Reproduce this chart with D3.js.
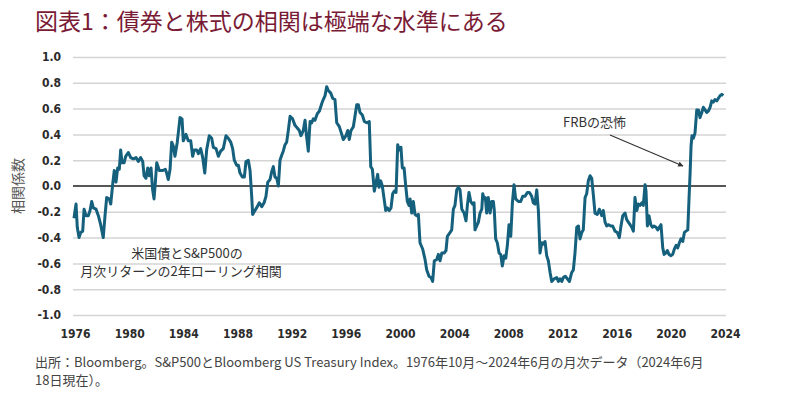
<!DOCTYPE html>
<html>
<head>
<meta charset="utf-8">
<script src="https://cdn.jsdelivr.net/npm/d3@7"></script>
<style>
  body { margin: 0; background: #fff; }
  text { font-family: "Noto Sans CJK JP", sans-serif; }
</style>
</head>
<body>
<svg id="chart" width="800" height="395"></svg>
<script>
// 2-year rolling correlation, US Treasuries vs S&P 500 (decimal year, value)
var corrSeries = [
  [1976.75,-0.25],[1976.90,-0.14],[1976.99,-0.32],[1977.12,-0.40],[1977.24,-0.36],[1977.39,-0.35],
  [1977.49,-0.18],[1977.63,-0.23],[1977.80,-0.23],[1977.93,-0.19],[1978.05,-0.12],[1978.17,-0.17],
  [1978.37,-0.18],[1978.54,-0.23],[1978.71,-0.30],[1978.90,-0.40],[1979.03,-0.23],[1979.15,-0.09],
  [1979.34,-0.10],[1979.45,-0.14],[1979.59,0.01],[1979.71,0.12],[1979.84,0.03],[1979.96,0.14],
  [1980.08,0.13],[1980.18,0.28],[1980.28,0.18],[1980.43,0.18],[1980.55,0.23],[1980.74,0.26],
  [1980.92,0.22],[1981.11,0.21],[1981.31,0.22],[1981.48,0.19],[1981.65,0.22],[1981.80,0.19],
  [1981.90,0.08],[1982.04,0.06],[1982.17,0.14],[1982.28,0.08],[1982.41,0.14],[1982.53,-0.03],
  [1982.63,-0.10],[1982.73,0.03],[1982.83,0.18],[1983.02,0.12],[1983.27,0.12],[1983.46,0.13],
  [1983.56,0.10],[1983.68,0.05],[1983.81,0.13],[1983.93,0.34],[1984.05,0.31],[1984.17,0.23],
  [1984.34,0.34],[1984.54,0.53],[1984.69,0.52],[1984.78,0.35],[1984.98,0.40],[1985.15,0.35],
  [1985.33,0.35],[1985.47,0.23],[1985.59,0.28],[1985.77,0.28],[1985.89,0.25],[1986.06,0.29],
  [1986.21,0.22],[1986.36,0.10],[1986.50,0.28],[1986.69,0.39],[1986.87,0.37],[1986.99,0.30],
  [1987.19,0.29],[1987.36,0.23],[1987.53,0.27],[1987.72,0.29],[1987.92,0.39],[1988.09,0.37],
  [1988.27,0.34],[1988.41,0.29],[1988.53,0.20],[1988.71,0.16],[1988.83,0.16],[1988.95,0.10],
  [1989.12,0.07],[1989.27,0.07],[1989.39,0.19],[1989.56,0.20],[1989.69,0.12],[1989.81,-0.08],
  [1989.88,-0.22],[1990.05,-0.19],[1990.22,-0.16],[1990.37,-0.13],[1990.55,-0.16],[1990.72,-0.13],
  [1990.86,-0.08],[1990.99,0.03],[1991.16,0.05],[1991.28,0.11],[1991.40,0.15],[1991.52,0.07],
  [1991.65,0.06],[1991.77,0.00],[1991.89,0.20],[1992.02,0.24],[1992.13,0.27],[1992.26,0.32],
  [1992.38,0.34],[1992.50,0.43],[1992.63,0.54],[1992.82,0.52],[1992.99,0.47],[1993.16,0.45],
  [1993.31,0.43],[1993.43,0.39],[1993.60,0.43],[1993.73,0.51],[1993.85,0.38],[1993.97,0.27],
  [1994.10,0.50],[1994.22,0.49],[1994.34,0.52],[1994.46,0.51],[1994.63,0.56],[1994.78,0.58],
  [1994.96,0.64],[1995.07,0.67],[1995.20,0.70],[1995.32,0.77],[1995.44,0.74],[1995.62,0.72],
  [1995.76,0.68],[1995.93,0.67],[1996.06,0.49],[1996.25,0.46],[1996.43,0.40],[1996.54,0.36],
  [1996.74,0.39],[1996.87,0.43],[1996.98,0.36],[1997.11,0.43],[1997.28,0.46],[1997.40,0.54],
  [1997.53,0.63],[1997.65,0.63],[1997.77,0.57],[1997.94,0.55],[1998.09,0.50],[1998.26,0.49],
  [1998.45,0.50],[1998.56,0.15],[1998.68,0.13],[1998.82,-0.04],[1998.95,0.03],[1999.07,0.09],
  [1999.17,-0.01],[1999.29,0.04],[1999.41,0.00],[1999.54,-0.10],[1999.66,-0.19],[1999.78,-0.17],
  [1999.92,-0.19],[2000.05,-0.17],[2000.17,-0.06],[2000.29,-0.04],[2000.42,-0.05],[2000.54,0.32],
  [2000.66,0.28],[2000.78,0.30],[2000.88,0.14],[2001.01,0.14],[2001.13,0.00],[2001.25,-0.12],
  [2001.37,-0.15],[2001.45,-0.10],[2001.57,-0.21],[2001.69,-0.12],[2001.81,-0.22],[2001.94,-0.23],
  [2002.06,-0.22],[2002.18,-0.44],[2002.38,-0.49],[2002.55,-0.57],[2002.67,-0.65],[2002.84,-0.70],
  [2002.99,-0.71],[2003.11,-0.74],[2003.23,-0.58],[2003.41,-0.57],[2003.53,-0.53],[2003.65,-0.58],
  [2003.78,-0.52],[2003.95,-0.52],[2004.09,-0.50],[2004.19,-0.39],[2004.33,-0.37],[2004.51,-0.34],
  [2004.63,-0.18],[2004.75,-0.15],[2004.88,-0.03],[2005.00,-0.01],[2005.12,-0.03],[2005.25,-0.18],
  [2005.42,-0.21],[2005.56,-0.27],[2005.66,-0.15],[2005.78,-0.05],[2005.91,-0.12],[2006.03,-0.14],
  [2006.15,-0.13],[2006.22,-0.34],[2006.35,-0.31],[2006.47,-0.28],[2006.59,-0.21],[2006.72,-0.18],
  [2006.79,-0.06],[2006.89,-0.10],[2006.98,-0.09],[2007.08,-0.21],[2007.20,-0.09],[2007.33,-0.21],
  [2007.45,-0.12],[2007.57,-0.12],[2007.64,-0.19],[2007.74,-0.41],[2007.86,-0.44],[2007.99,-0.52],
  [2008.11,-0.53],[2008.23,-0.62],[2008.36,-0.54],[2008.48,-0.56],[2008.60,-0.46],[2008.72,-0.30],
  [2008.85,-0.39],[2008.97,-0.13],[2009.09,0.01],[2009.21,-0.10],[2009.41,-0.12],[2009.58,-0.12],
  [2009.73,-0.08],[2009.90,-0.08],[2010.07,-0.05],[2010.22,-0.05],[2010.39,-0.08],[2010.51,-0.13],
  [2010.63,-0.14],[2010.76,-0.03],[2010.88,-0.19],[2011.00,-0.52],[2011.13,-0.44],[2011.24,-0.45],
  [2011.37,-0.43],[2011.49,-0.54],[2011.61,-0.58],[2011.74,-0.67],[2011.86,-0.74],[2012.03,-0.72],
  [2012.23,-0.71],[2012.35,-0.74],[2012.47,-0.72],[2012.60,-0.74],[2012.71,-0.71],[2012.86,-0.70],
  [2013.01,-0.72],[2013.16,-0.74],[2013.33,-0.67],[2013.45,-0.65],[2013.57,-0.52],[2013.70,-0.32],
  [2013.82,-0.31],[2013.94,-0.41],[2014.07,-0.36],[2014.18,-0.34],[2014.31,-0.09],[2014.43,-0.06],
  [2014.55,0.04],[2014.68,0.08],[2014.80,0.06],[2014.92,-0.07],[2015.04,-0.21],[2015.21,-0.22],
  [2015.36,-0.18],[2015.54,-0.23],[2015.65,-0.19],[2015.78,-0.28],[2015.90,-0.31],[2016.02,-0.30],
  [2016.20,-0.31],[2016.34,-0.31],[2016.51,-0.35],[2016.68,-0.36],[2016.83,-0.40],[2016.95,-0.31],
  [2017.08,-0.23],[2017.25,-0.21],[2017.37,-0.26],[2017.49,-0.28],[2017.62,-0.30],[2017.74,-0.32],
  [2017.86,-0.35],[2017.98,-0.09],[2018.11,-0.19],[2018.23,-0.14],[2018.35,-0.15],[2018.48,-0.13],
  [2018.59,-0.15],[2018.72,0.01],[2018.79,-0.04],[2018.89,-0.31],[2019.01,-0.23],[2019.14,-0.30],
  [2019.26,-0.32],[2019.38,-0.31],[2019.53,-0.32],[2019.65,-0.34],[2019.77,-0.32],[2019.89,-0.30],
  [2020.02,-0.48],[2020.12,-0.53],[2020.24,-0.52],[2020.36,-0.50],[2020.48,-0.53],[2020.63,-0.54],
  [2020.75,-0.53],[2020.87,-0.49],[2021.00,-0.46],[2021.12,-0.48],[2021.24,-0.44],[2021.36,-0.41],
  [2021.49,-0.43],[2021.61,-0.36],[2021.73,-0.35],[2021.86,-0.34],[2021.95,-0.10],[2022.03,0.10],
  [2022.10,0.31],[2022.17,0.39],[2022.27,0.37],[2022.39,0.41],[2022.52,0.59],[2022.64,0.59],
  [2022.76,0.53],[2022.89,0.57],[2023.00,0.61],[2023.13,0.59],[2023.25,0.57],[2023.37,0.58],
  [2023.50,0.61],[2023.62,0.66],[2023.74,0.65],[2023.86,0.67],[2023.99,0.66],[2024.11,0.68],
  [2024.23,0.70],[2024.36,0.71],[2024.47,0.70]
];

var tickYears = ["1976","1980","1984","1988","1992","1996","2000","2004","2008","2012","2016","2020","2024"];
var yTicks = [-1.0, -0.8, -0.6, -0.4, -0.2, 0.0, 0.2, 0.4, 0.6, 0.8, 1.0];

var svg = d3.select("#chart"),
    plotLeft = 73, plotRight = 726;

var x = d3.scaleLinear().domain([1976.75, 2024.47]).range([74, 723.3]);
var xLabel = d3.scalePoint().domain(tickYears).range([75, 725]);
var y = d3.scaleLinear().domain([-1, 1]).range([315, 57]);

svg.append("rect").attr("width", 800).attr("height", 395).attr("fill", "#fff");

// title
svg.append("text")
    .attr("x", 35).attr("y", 30)
    .attr("fill", "#7a1b36")
    .style("font-size", "23px")
    .text("図表1：債券と株式の相関は極端な水準にある");

// gridlines
var grid = svg.append("g")
    .attr("transform", "translate(" + plotLeft + ",0)")
    .call(d3.axisLeft(y).tickValues(yTicks.filter(function(d) { return d !== 0; }))
      .tickSize(-(plotRight - plotLeft)).tickFormat(""));
grid.select(".domain").remove();
grid.selectAll("line").attr("stroke", "#d4d4d4").attr("stroke-width", 1.5);

// y labels
var yAxis = svg.append("g")
    .attr("transform", "translate(" + plotLeft + ",0)")
    .call(d3.axisLeft(y).tickValues(yTicks).tickSize(0).tickPadding(12)
      .tickFormat(function(d) { return d.toFixed(1); }));
yAxis.select(".domain").remove();
yAxis.selectAll("text")
    .attr("fill", "#2b2b2b")
    .style("font-family", "'DejaVu Sans Condensed', 'DejaVu Sans', sans-serif")
    .style("font-weight", "bold")
    .style("font-size", "12px");

// x labels
var xAxis = svg.append("g")
    .attr("transform", "translate(0,321)")
    .call(d3.axisBottom(xLabel).tickSize(0).tickPadding(8));
xAxis.select(".domain").remove();
xAxis.selectAll("text")
    .attr("fill", "#2b2b2b")
    .style("font-family", "'DejaVu Sans Condensed', 'DejaVu Sans', sans-serif")
    .style("font-weight", "bold")
    .style("font-size", "12px");

// zero line
svg.append("line")
    .attr("x1", plotLeft).attr("x2", plotRight)
    .attr("y1", y(0)).attr("y2", y(0))
    .attr("stroke", "#1e1e1e").attr("stroke-width", 1.6);

// correlation line
svg.append("path")
    .datum(corrSeries)
    .attr("fill", "none")
    .attr("stroke", "#15607d")
    .attr("stroke-width", 3)
    .attr("stroke-linejoin", "round")
    .attr("d", d3.line()
      .x(function(d) { return x(d[0]); })
      .y(function(d) { return y(d[1]); }));

// y axis title
svg.append("text")
    .attr("transform", "translate(23,186) rotate(-90)")
    .attr("text-anchor", "middle")
    .attr("fill", "#555")
    .style("font-size", "14px")
    .text("相関係数");

// series note
svg.append("text")
    .attr("x", 187).attr("y", 258)
    .attr("text-anchor", "middle")
    .attr("fill", "#333")
    .style("font-size", "13px")
    .text("米国債とS&P500の");
svg.append("text")
    .attr("x", 181).attr("y", 276)
    .attr("text-anchor", "middle")
    .attr("fill", "#333")
    .style("font-size", "13px")
    .text("月次リターンの2年ローリング相関");

// FRB annotation
svg.append("defs").append("marker")
    .attr("id", "arrow")
    .attr("viewBox", "0 0 10 10")
    .attr("refX", 9).attr("refY", 5)
    .attr("markerWidth", 4.5).attr("markerHeight", 4.5)
    .attr("orient", "auto")
  .append("path")
    .attr("d", "M0,0L10,5L0,10Z")
    .attr("fill", "#333");

svg.append("text")
    .attr("x", 563).attr("y", 127)
    .attr("fill", "#333")
    .style("font-size", "13px")
    .text("FRBの恐怖");

svg.append("line")
    .attr("x1", 610).attr("y1", 135)
    .attr("x2", 683).attr("y2", 166)
    .attr("stroke", "#333").attr("stroke-width", 1.2)
    .attr("marker-end", "url(#arrow)");

// source note
svg.append("text")
    .attr("x", 35).attr("y", 367)
    .attr("fill", "#444")
    .style("font-size", "13px")
    .text("出所：Bloomberg。S&P500とBloomberg US Treasury Index。1976年10月～2024年6月の月次データ（2024年6月");
svg.append("text")
    .attr("x", 35).attr("y", 385)
    .attr("fill", "#444")
    .style("font-size", "13px")
    .text("18日現在）。");
</script>
</body>
</html>
